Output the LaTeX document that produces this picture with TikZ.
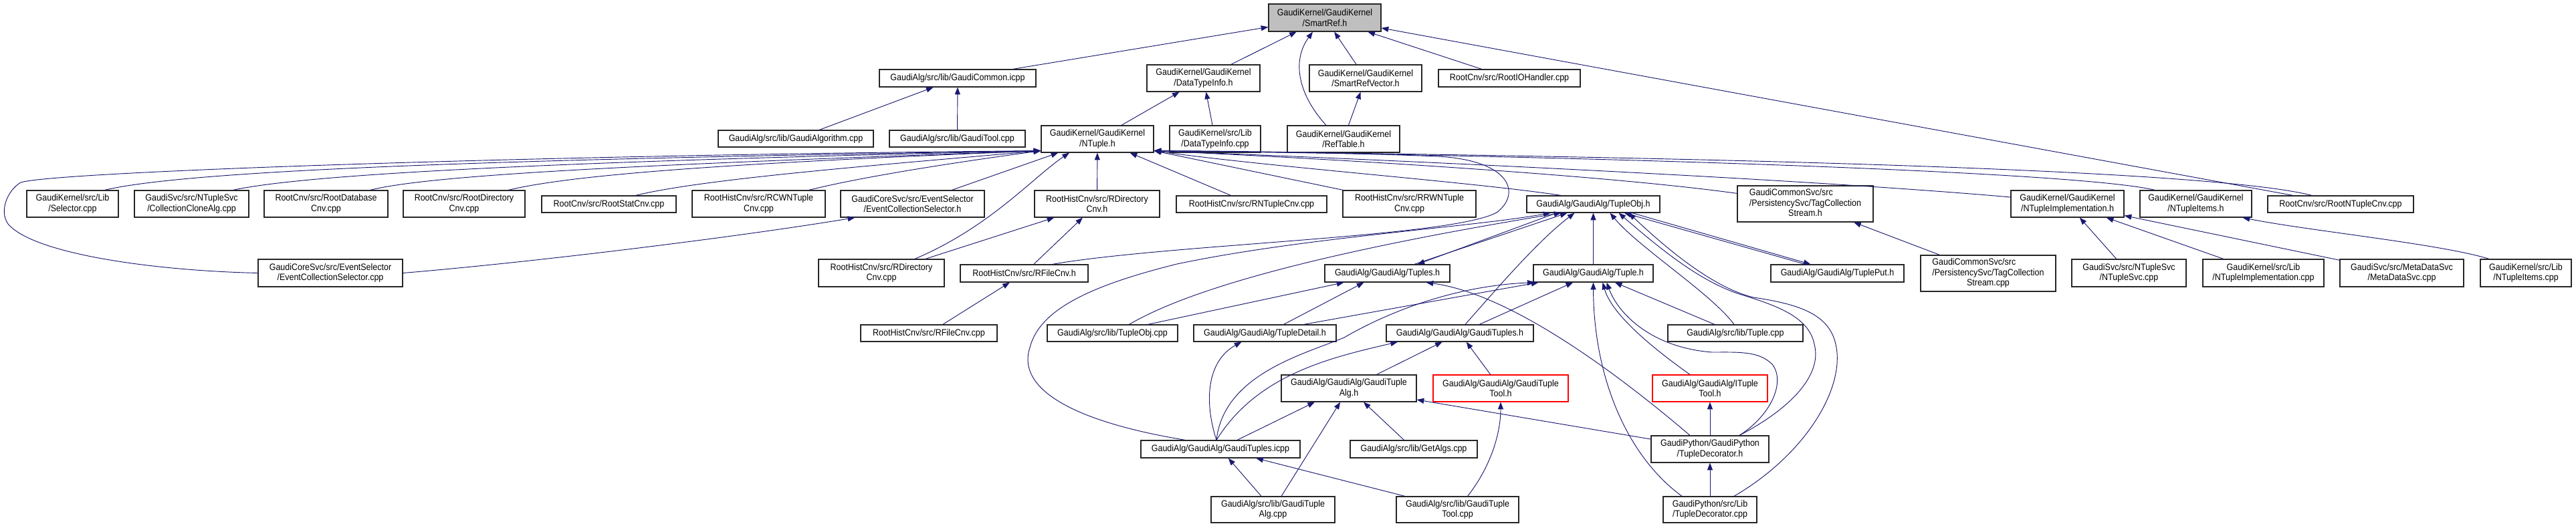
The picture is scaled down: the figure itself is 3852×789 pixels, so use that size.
\documentclass[tikz,border=0pt]{standalone}
\usepackage{fontspec}
\setmainfont{Liberation Sans}[FakeStretch=0.9]
\usetikzlibrary{arrows.meta,calc}
\definecolor{edgeblue}{HTML}{191970}
\definecolor{rootgray}{HTML}{BFBFBF}
\tikzset{>={Triangle[length=8pt,width=6pt]}}
\tikzset{
  file/.style={draw=black!85, line width=0.9pt, fill=white, inner sep=0pt,
    align=center, font=\fontsize{10.4}{11.5}\selectfont},
  rootfile/.style={file, fill=rootgray},
  badfile/.style={file, draw=red},
  wd/.style={minimum width=#1*0.75pt},
  ht/.style={minimum height=#1*0.75pt},
  dep/.style={->, draw=edgeblue, line width=0.7pt},
}

\begin{document}
\begin{tikzpicture}[x=0.75pt, y=-0.75pt]
  \useasboundingbox (0,0) rectangle (3852,789);

  % rank 0 and 1
  \node[rootfile, wd=168, ht=41] (sr) at (1981,26.5) {GaudiKernel/GaudiKernel\\/SmartRef.h};
  \node[file, wd=234, ht=26] (gcicpp) at (1432,117) {GaudiAlg/src/lib/GaudiCommon.icpp};
  \node[file, wd=169, ht=40] (dtih) at (1799.5,117) {GaudiKernel/GaudiKernel\\/DataTypeInfo.h};
  \node[file, wd=168, ht=40] (srv) at (2042,117) {GaudiKernel/GaudiKernel\\/SmartRefVector.h};
  \node[file, wd=212, ht=26] (rootioh) at (2257,117) {RootCnv/src/RootIOHandler.cpp};

  % rank 2
  \node[file, wd=232, ht=25] (galgcpp) at (1190,207.5) {GaudiAlg/src/lib/GaudiAlgorithm.cpp};
  \node[file, wd=203, ht=25] (gtoolcpp) at (1431.5,207.5) {GaudiAlg/src/lib/GaudiTool.cpp};
  \node[file, wd=168, ht=40] (nt) at (1641,208) {GaudiKernel/GaudiKernel\\/NTuple.h};
  \node[file, wd=136, ht=40] (dticpp) at (1817,208) {GaudiKernel/src/Lib\\/DataTypeInfo.cpp};
  \node[file, wd=168, ht=40] (reftab) at (2009,208) {GaudiKernel/GaudiKernel\\/RefTable.h};

  % rank 3
  \node[file, wd=137, ht=40] (sel) at (108.5,305) {GaudiKernel/src/Lib\\/Selector.cpp};
  \node[file, wd=171, ht=40] (ccalg) at (286.5,305) {GaudiSvc/src/NTupleSvc\\/CollectionCloneAlg.cpp};
  \node[file, wd=185, ht=40] (rdbcnv) at (487.5,305) {RootCnv/src/RootDatabase\\Cnv.cpp};
  \node[file, wd=182, ht=40] (rdircnv) at (694,305) {RootCnv/src/RootDirectory\\Cnv.cpp};
  \node[file, wd=201, ht=25] (rstatcnv) at (910.5,305.5) {RootCnv/src/RootStatCnv.cpp};
  \node[file, wd=199, ht=40] (rcwn) at (1134.5,305) {RootHistCnv/src/RCWNTuple\\Cnv.cpp};
  \node[file, wd=215, ht=40] (ecsh) at (1364.5,305) {GaudiCoreSvc/src/EventSelector\\/EventCollectionSelector.h};
  \node[file, wd=187, ht=40] (rdirh) at (1640.5,305) {RootHistCnv/src/RDirectory\\Cnv.h};
  \node[file, wd=225, ht=25] (rntcnv) at (1871.5,305.5) {RootHistCnv/src/RNTupleCnv.cpp};
  \node[file, wd=199, ht=40] (rrwn) at (2107.5,305) {RootHistCnv/src/RRWNTuple\\Cnv.cpp};
  \node[file, wd=199, ht=25] (toh) at (2382.5,305.5) {GaudiAlg/GaudiAlg/TupleObj.h};
  \node[file, wd=203, ht=54] (tcsh) at (2699.5,305) {\begin{tabular}{@{}l@{}}GaudiCommonSvc/src\\/PersistencySvc/TagCollection\\\multicolumn{1}{@{}c@{}}{Stream.h}\end{tabular}};
  \node[file, wd=169, ht=40] (ntimplh) at (3091.5,305) {GaudiKernel/GaudiKernel\\/NTupleImplementation.h};
  \node[file, wd=167, ht=40] (ntitemsh) at (3283.5,305) {GaudiKernel/GaudiKernel\\/NTupleItems.h};
  \node[file, wd=218, ht=25] (rootntcnv) at (3500,305.5) {RootCnv/src/RootNTupleCnv.cpp};

  % rank 4
  \node[file, wd=216, ht=41] (ecscpp) at (494,408.5) {GaudiCoreSvc/src/EventSelector\\/EventCollectionSelector.cpp};
  \node[file, wd=188, ht=41] (rdircpp) at (1318,408.5) {RootHistCnv/src/RDirectory\\Cnv.cpp};
  \node[file, wd=191, ht=26] (rfileh) at (1531.5,409) {RootHistCnv/src/RFileCnv.h};
  \node[file, wd=187, ht=26] (tuplesh) at (2074.5,409) {GaudiAlg/GaudiAlg/Tuples.h};
  \node[file, wd=179, ht=26] (tupleh) at (2382.5,409) {GaudiAlg/GaudiAlg/Tuple.h};
  \node[file, wd=199, ht=26] (tputh) at (2747.5,409) {GaudiAlg/GaudiAlg/TuplePut.h};
  \node[file, wd=202, ht=54] (tcscpp) at (2973,409) {\begin{tabular}{@{}l@{}}GaudiCommonSvc/src\\/PersistencySvc/TagCollection\\\multicolumn{1}{@{}c@{}}{Stream.cpp}\end{tabular}};
  \node[file, wd=171, ht=41] (ntsvccpp) at (3183.5,408.5) {GaudiSvc/src/NTupleSvc\\/NTupleSvc.cpp};
  \node[file, wd=181, ht=41] (ntimplcpp) at (3384.5,408.5) {GaudiKernel/src/Lib\\/NTupleImplementation.cpp};
  \node[file, wd=185, ht=41] (mdsvc) at (3591.5,408.5) {GaudiSvc/src/MetaDataSvc\\/MetaDataSvc.cpp};
  \node[file, wd=136, ht=41] (ntitemscpp) at (3777,408.5) {GaudiKernel/src/Lib\\/NTupleItems.cpp};

  % rank 5
  \node[file, wd=204, ht=25] (rfilecpp) at (1389,498.5) {RootHistCnv/src/RFileCnv.cpp};
  \node[file, wd=195, ht=25] (tobjcpp) at (1663.5,498.5) {GaudiAlg/src/lib/TupleObj.cpp};
  \node[file, wd=213, ht=25] (tdeth) at (1891.5,498.5) {GaudiAlg/GaudiAlg/TupleDetail.h};
  \node[file, wd=220, ht=25] (gtsh) at (2183,498.5) {GaudiAlg/GaudiAlg/GaudiTuples.h};
  \node[file, wd=202, ht=25] (tuplecpp) at (2595,498.5) {GaudiAlg/src/lib/Tuple.cpp};

  % rank 6 to 8
  \node[file, wd=202, ht=40] (gtah) at (2017,581) {GaudiAlg/GaudiAlg/GaudiTuple\\Alg.h};
  \node[badfile, wd=202, ht=40] (gtth) at (2244,581) {GaudiAlg/GaudiAlg/GaudiTuple\\Tool.h};
  \node[badfile, wd=172, ht=40] (itth) at (2557,581) {GaudiAlg/GaudiAlg/ITuple\\Tool.h};
  \node[file, wd=238, ht=26] (gticpp) at (1825,672) {GaudiAlg/GaudiAlg/GaudiTuples.icpp};
  \node[file, wd=190, ht=26] (getalgs) at (2114,672) {GaudiAlg/src/lib/GetAlgs.cpp};
  \node[file, wd=176, ht=40] (tdech) at (2557,672) {GaudiPython/GaudiPython\\/TupleDecorator.h};
  \node[file, wd=185, ht=39] (gtacpp) at (1903.5,762.5) {GaudiAlg/src/lib/GaudiTuple\\Alg.cpp};
  \node[file, wd=183, ht=39] (gttcpp) at (2179.5,762.5) {GaudiAlg/src/lib/GaudiTuple\\Tool.cpp};
  \node[file, wd=140, ht=39] (tdeccpp) at (2557,762.5) {GaudiPython/src/Lib\\/TupleDecorator.cpp};

  \coordinate (ntl) at ($(nt.south west)+(0,-3)$);
  \coordinate (ntr) at ($(nt.south east)+(0,-3)$);

  % SmartRef.h
  \draw[dep] (gcicpp) -- (sr);
  \draw[dep] (dtih) -- (sr);
  \draw[dep] ($(reftab.north)+(-26,0)$) .. controls (1940,140) and (1932,90) .. ($(sr.south)+(-18,0)$);
  \draw[dep] (srv) -- (sr);
  \draw[dep] (rootioh) -- (sr);
  \draw[dep] (rootntcnv) -- (sr);
  \draw[dep] (reftab) -- (srv);
  \draw[dep] (nt) -- (dtih);
  \draw[dep] (dticpp) -- (dtih);
  \draw[dep] (galgcpp) -- (gcicpp);
  \draw[dep] (gtoolcpp) -- (gcicpp);

  % NTuple.h
  \draw[dep] ($(sel.north)+(48,0)$) .. controls (300,250) and (900,236) .. (ntl);
  \draw[dep] ($(ccalg.north)+(62,0)$) .. controls (470,258) and (900,240) .. (ntl);
  \draw[dep] ($(rdbcnv.north)+(66,0)$) .. controls (650,260) and (1000,245) .. (ntl);
  \draw[dep] ($(rdircnv.north)+(66,0)$) .. controls (870,258) and (1150,242) .. (ntl);
  \draw[dep] ($(rstatcnv.north)+(40,0)$) .. controls (1050,268) and (1300,248) .. (ntl);
  \draw[dep] ($(rcwn.north)+(75,0)$) .. controls (1300,262) and (1450,240) .. (ntl);
  \draw[dep] (ecscpp.west) .. controls (230,405) and (50,380) .. (12,335)
    .. controls (-2,315) and (12,284) .. (31,273) .. controls (80,257) and (800,232) .. (ntl);
  \draw[dep] (ecscpp.east) .. controls (800,392) and (1100,355) .. ($(ecsh.south west)+(22,0)$);
  \draw[dep] (ecsh) -- (nt);
  \draw[dep] (rdirh) -- (nt);
  \draw[dep] (rntcnv) -- (nt);
  \draw[dep] (rdircpp) .. controls (1480,340) and (1545,265) .. ($(nt.south)+(-42,0)$);
  \draw[dep] (rdircpp) -- (rdirh);
  \draw[dep] (rfileh) -- (rdirh);
  \draw[dep] (rfilecpp) -- (rfileh);
  \draw[dep] ($(rfileh.north)+(42,0)$) .. controls (1750,365) and (2170,355) .. (2238,318)
    .. controls (2275,290) and (2260,240) .. (2150,234) .. controls (2000,228) and (1850,226) .. (ntr);
  \draw[dep] (rrwn) -- (ntr);
  \draw[dep] ($(toh.north)+(-48,0)$) .. controls (2200,272) and (1900,250) .. (ntr);
  \draw[dep] ($(tcsh.north west)+(0,12)$) .. controls (2400,262) and (2000,238) .. (ntr);
  \draw[dep] ($(ntimplh.west)+(0,-10)$) .. controls (2700,268) and (2100,240) .. (ntr);
  \draw[dep] ($(ntitemsh.north west)+(23,0)$) .. controls (3100,255) and (2300,232) .. (ntr);
  \draw[dep] ($(rootntcnv.north)+(-43,0)$) .. controls (3300,252) and (2500,234) .. (ntr);

  % NTuple implementation and items
  \draw[dep] (ntsvccpp) -- (ntimplh);
  \draw[dep] (ntimplcpp) -- (ntimplh);
  \draw[dep] (mdsvc) -- (ntimplh);
  \draw[dep] ($(ntitemscpp.north)+(-55,0)$) .. controls (3650,365) and (3450,345) .. ($(ntitemsh.south)+(70,0)$);
  \draw[dep] (tcscpp) -- (tcsh);

  % TupleObj.h
  \draw[dep] (tupleh) -- (toh);
  \draw[dep] ($(gticpp.north west)+(67,0)$) .. controls (1600,630) and (1520,580) .. (1540,520)
    .. controls (1555,460) and (1640,425) .. (1760,395) .. controls (1950,355) and (2200,340) .. ($(toh.south)+(-64,0)$);
  \draw[dep] ($(tobjcpp.north)+(25,0)$) .. controls (1800,420) and (2050,365) .. ($(toh.south)+(-48,0)$);
  \draw[dep] ($(gtsh.north)+(8,0)$) .. controls (2240,430) and (2300,360) .. ($(toh.south)+(-28,0)$);
  \draw[dep] ($(tuplecpp.north)+(-2,0)$) .. controls (2560,440) and (2450,370) .. ($(toh.south)+(25,0)$);
  \draw[dep] ($(tdech.north)+(44,0)$) .. controls (2680,610) and (2725,560) .. (2713,515)
    .. controls (2705,475) and (2660,458) .. (2601,440) .. controls (2540,420) and (2480,370) .. ($(toh.south)+(38,0)$);
  \draw[dep] ($(tdeccpp.north)+(36,0)$) .. controls (2700,680) and (2760,580) .. (2745,515)
    .. controls (2735,470) and (2690,455) .. (2622,445) .. controls (2560,430) and (2490,370) .. ($(toh.south)+(53,0)$);
  \draw[dep] (tuplesh) -- (toh);
  \draw[dep] ($(toh.south)+(-55,0)$) -- ($(tuplesh.north)+(45,0)$);
  \draw[dep] (tputh) -- (toh);
  \draw[dep] ($(toh.south)+(58,0)$) -- ($(tputh.north)+(-40,0)$);

  % Tuples.h and Tuple.h
  \draw[dep] ($(tobjcpp.north)+(53,0)$) -- ($(tuplesh.south)+(-65,0)$);
  \draw[dep] ($(tdeth.north)+(28,0)$) -- ($(tuplesh.south)+(-35,0)$);
  \draw[dep] ($(tdech.north)+(-30,0)$) .. controls (2420,560) and (2260,440) .. ($(tuplesh.south)+(58,0)$);
  \draw[dep] ($(tdeth.north)+(58,0)$) -- ($(tupleh.south)+(-82,0)$);
  \draw[dep] (gtsh) -- (tupleh);
  \draw[dep] ($(tdeccpp.north)+(-42,0)$) .. controls (2430,680) and (2383,560) .. (tupleh.south);
  \draw[dep] ($(itth.north)+(-30,0)$) .. controls (2470,520) and (2410,470) .. ($(tupleh.south)+(14,0)$);
  \draw[dep] ($(tdech.north)+(44,0)$) .. controls (2650,620) and (2670,570) .. (2650,545)
    .. controls (2630,525) and (2600,527) .. (2560,527) .. controls (2470,520) and (2420,470) .. ($(tupleh.south)+(20,0)$);
  \draw[dep] (tuplecpp) -- (tupleh);
  \draw[dep] ($(gticpp.north)+(-6,0)$) .. controls (1830,560) and (1950,530) .. (2010,505)
    .. controls (2070,470) and (2170,428) .. ($(tupleh.south)+(-88,0)$);

  % GaudiTuples
  \draw[dep] ($(gticpp.north)+(-6,0)$) .. controls (1880,560) and (1990,535) .. ($(gtsh.south)+(-93,0)$);
  \draw[dep] ($(gticpp.north)+(-6,0)$) .. controls (1800,600) and (1805,540) .. ($(tdeth.south)+(-35,0)$);
  \draw[dep] ($(gticpp.north)+(25,0)$) -- ($(gtah.south)+(-51,0)$);
  \draw[dep] (gtacpp) -- (gticpp);
  \draw[dep] (gttcpp) -- (gticpp);
  \draw[dep] (gtacpp) -- (gtah);
  \draw[dep] (getalgs) -- (gtah);
  \draw[dep] (tdech) -- (gtah);
  \draw[dep] ($(gttcpp.north)+(15,0)$) .. controls (2228,700) and (2244,650) .. (gtth.south);
  \draw[dep] (gtah) -- (gtsh);
  \draw[dep] (gtth) -- (gtsh);
  \draw[dep] (tdech) -- (itth);
  \draw[dep] (tdeccpp) -- (tdech);
\end{tikzpicture}
\end{document}
